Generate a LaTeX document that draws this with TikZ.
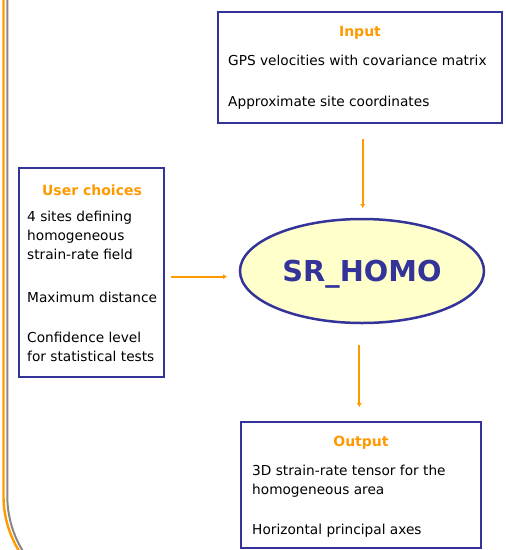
\documentclass[tikz,border=0pt]{standalone}
\usepackage{fontspec}
\setmainfont{DejaVu Sans}
\usetikzlibrary{shapes.geometric,arrows.meta,calc}
\definecolor{navy}{HTML}{333399}
\definecolor{orng}{HTML}{FF9900}
\definecolor{lyel}{HTML}{FFFFCC}
\definecolor{gry}{HTML}{888888}
\begin{document}
\begin{tikzpicture}[x=1pt,y=1pt,
  box/.style={draw=navy,line width=2.5pt,rectangle,inner sep=0pt,outer sep=0pt,anchor=north west},
  ttl/.style={font=\fontsize{14}{17}\selectfont\bfseries,text=orng,anchor=base,inner sep=0pt},
  txt/.style={font=\fontsize{13.7}{19}\selectfont,anchor=base west,inner sep=0pt},
  arr/.style={draw=orng,line width=1.8pt,-{Latex[length=4pt,width=5.5pt]}},
  edge/.style={line width=2.4pt}]
\useasboundingbox (0,0) rectangle (506,-550);
\begin{scope}
\clip (0,0) rectangle (506,-550);
\draw[edge,orng] (3.5,0) -- (3.5,-496) arc[start angle=180,end angle=240,radius=105];
\draw[edge,gry,line width=2pt] (7.3,0) -- (7.3,-496) arc[start angle=180,end angle=240,radius=105];
\end{scope}
% boxes
\node[box,minimum width=284pt,minimum height=111pt] (input) at (218,-12) {};
\node[box,minimum width=145pt,minimum height=209pt] (user) at (19,-168) {};
\node[box,minimum width=240pt,minimum height=126pt] (output) at (241,-422) {};
\node[ellipse,draw=navy,fill=lyel,line width=2.5pt,minimum width=244pt,minimum height=104pt,inner sep=0pt,outer sep=0pt,
  text=navy,font=\fontsize{28.8}{30}\selectfont\bfseries,text height=21pt,text depth=0pt] (sr) at (362,-271) {SR\_HOMO};
% input texts
\node[ttl] (tin) at (360,-36) {Input};
\node[txt] (in1) at (228,-65) {GPS velocities with covariance matrix};
\node[txt] (in2) at (228,-106) {Approximate site coordinates};
% user texts
\node[ttl] (tus) at (92,-195) {User choices};
\node[txt] (u1) at (27,-221.7) {4 sites defining};
\node[txt] (u2) at (27,-240.7) {homogeneous};
\node[txt] (u3) at (27,-259.7) {strain-rate field};
\node[txt] (u4) at (27,-302) {Maximum distance};
\node[txt] (u5) at (27,-342.5) {Confidence level};
\node[txt] (u6) at (27,-361.5) {for statistical tests};
% output texts
\node[ttl] (tout) at (361,-446.5) {Output};
\node[txt] (o1) at (252,-475) {3D strain-rate tensor for the};
\node[txt] (o2) at (252,-494) {homogeneous area};
\node[txt] (o3) at (252,-534) {Horizontal principal axes};
% arrows
\draw[arr] ($(input.south)+(2.7,-16)$) -- ($(sr.north)+(0.7,11)$);
\draw[arr] ($(user.east)+(7,-4.2)$) coordinate (a2) -- ($(sr.west |- a2)+(-13,0)$);
\draw[arr] ($(sr.south)+(-2.7,-22)$) -- ($(output.north)+(-1.7,15)$);
\end{tikzpicture}
\end{document}
